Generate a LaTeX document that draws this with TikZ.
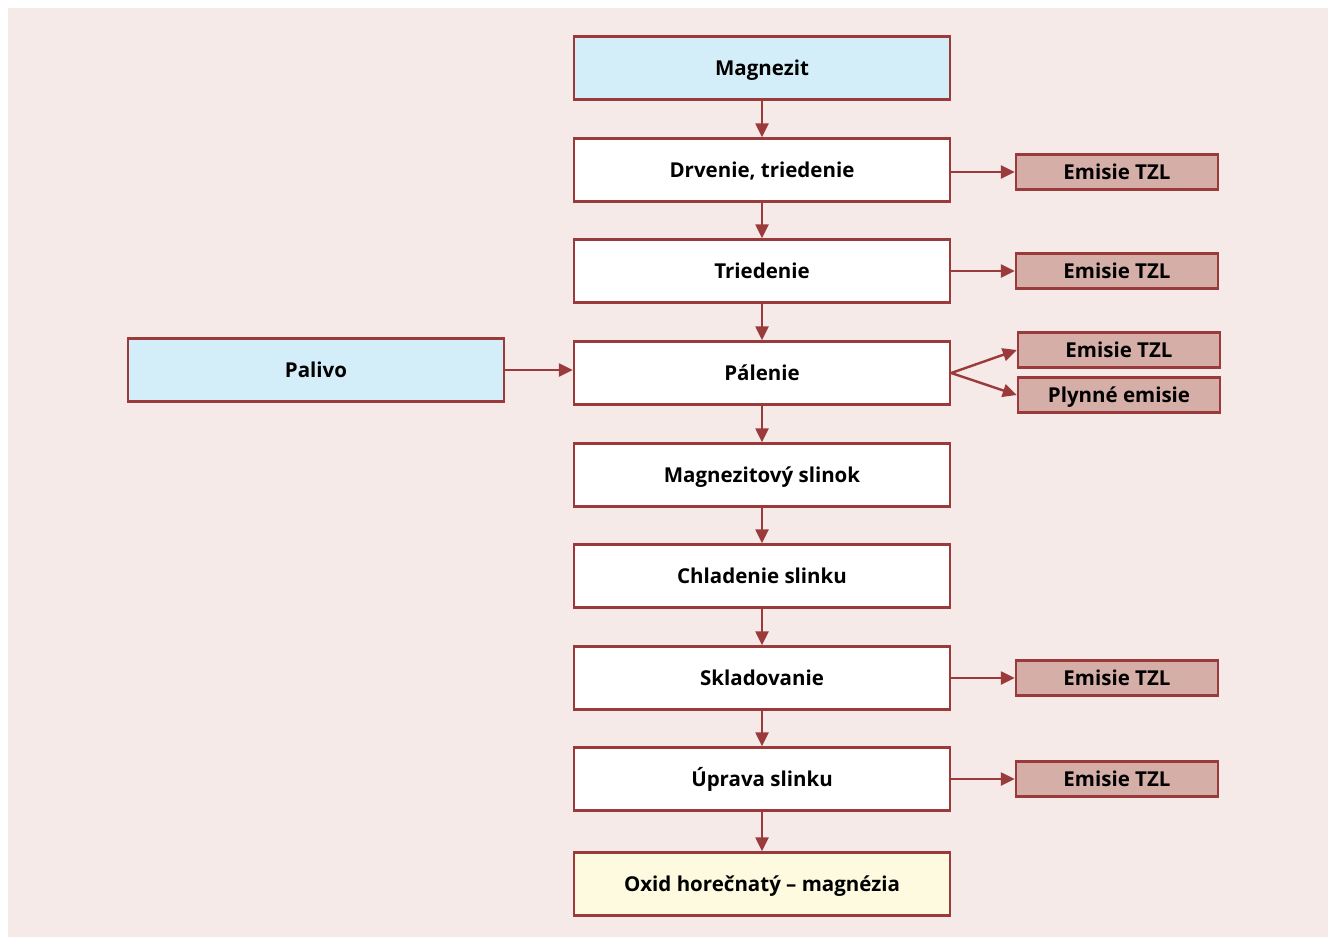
\documentclass[tikz,border=0pt]{standalone}
\usepackage{fontspec}
\setmainfont{Open Sans}
\usepackage{tikz}
\usetikzlibrary{arrows.meta, positioning}
\usepackage{xcolor}

\definecolor{linered}{HTML}{9B3A3A}
\definecolor{bgpink}{HTML}{F5EAE8}
\definecolor{rawblue}{HTML}{D4EEF9}
\definecolor{emisred}{HTML}{D5AEA7}
\definecolor{prodyellow}{HTML}{FEFAE0}

\tikzset{
    stepbox/.style={draw=linered, line width=2.4pt, fill=white, minimum width=376pt, minimum height=63pt, text height=15pt, text depth=0pt, font=\fontsize{20.5}{24}\selectfont\bfseries},
    rawbox/.style={stepbox, fill=rawblue},
    prodbox/.style={stepbox, fill=prodyellow},
    emisbox/.style={draw=linered, line width=2.4pt, fill=emisred, minimum width=202pt, minimum height=35pt, text height=15pt, text depth=0pt, font=\fontsize{20.5}{24}\selectfont\bfseries},
    flow/.style={draw=linered, line width=2.4pt, -{Triangle[length=14pt, width=13pt]}}
}

\begin{document}
\begin{tikzpicture}[x=1pt, y=-1pt]
    \useasboundingbox (0,0) rectangle (1328,937);
    \fill[bgpink] (8,8) rectangle (1328,937);

    % main line
    \node[rawbox] (magnezit) at (762,68) {Magnezit};
    \node[stepbox] (drvenie) at (762,170) {Drvenie, triedenie};
    \node[stepbox] (triedenie) at (762,271) {Triedenie};
    \node[stepbox] (palenie) at (762,373) {Pálenie};
    \node[stepbox] (slinok) at (762,475) {Magnezitový slinok};
    \node[stepbox] (chladenie) at (762,576) {Chladenie slinku};
    \node[stepbox] (sklad) at (762,678) {Skladovanie};
    \node[stepbox] (uprava) at (762,779) {Úprava slinku};
    \node[prodbox] (oxid) at (762,884) {Oxid horečnatý – magnézia};

    \node[rawbox] (palivo) at (316,370) {Palivo};

    % emisie
    \node[emisbox] (em1) at (1117,172) {Emisie TZL};
    \node[emisbox] (em2) at (1117,271) {Emisie TZL};
    \node[emisbox] (em3) at (1119,350) {Emisie TZL};
    \node[emisbox] (plyn) at (1119,395) {Plynné emisie};
    \node[emisbox] (em4) at (1117,678) {Emisie TZL};
    \node[emisbox] (em5) at (1117,779) {Emisie TZL};

    \draw[flow] (magnezit) -- (drvenie);
    \draw[flow] (drvenie) -- (triedenie);
    \draw[flow] (triedenie) -- (palenie);
    \draw[flow] (palenie) -- (slinok);
    \draw[flow] (slinok) -- (chladenie);
    \draw[flow] (chladenie) -- (sklad);
    \draw[flow] (sklad) -- (uprava);
    \draw[flow] (uprava) -- (oxid);

    \draw[flow] (palivo) -- (palenie.west |- palivo);
    \draw[flow] (drvenie.east |- em1) -- (em1);
    \draw[flow] (triedenie) -- (em2);
    \draw[flow] (palenie.east) -- (em3.west);
    \draw[flow] (palenie.east) -- (plyn.west);
    \draw[flow] (sklad) -- (em4);
    \draw[flow] (uprava) -- (em5);
\end{tikzpicture}
\end{document}
